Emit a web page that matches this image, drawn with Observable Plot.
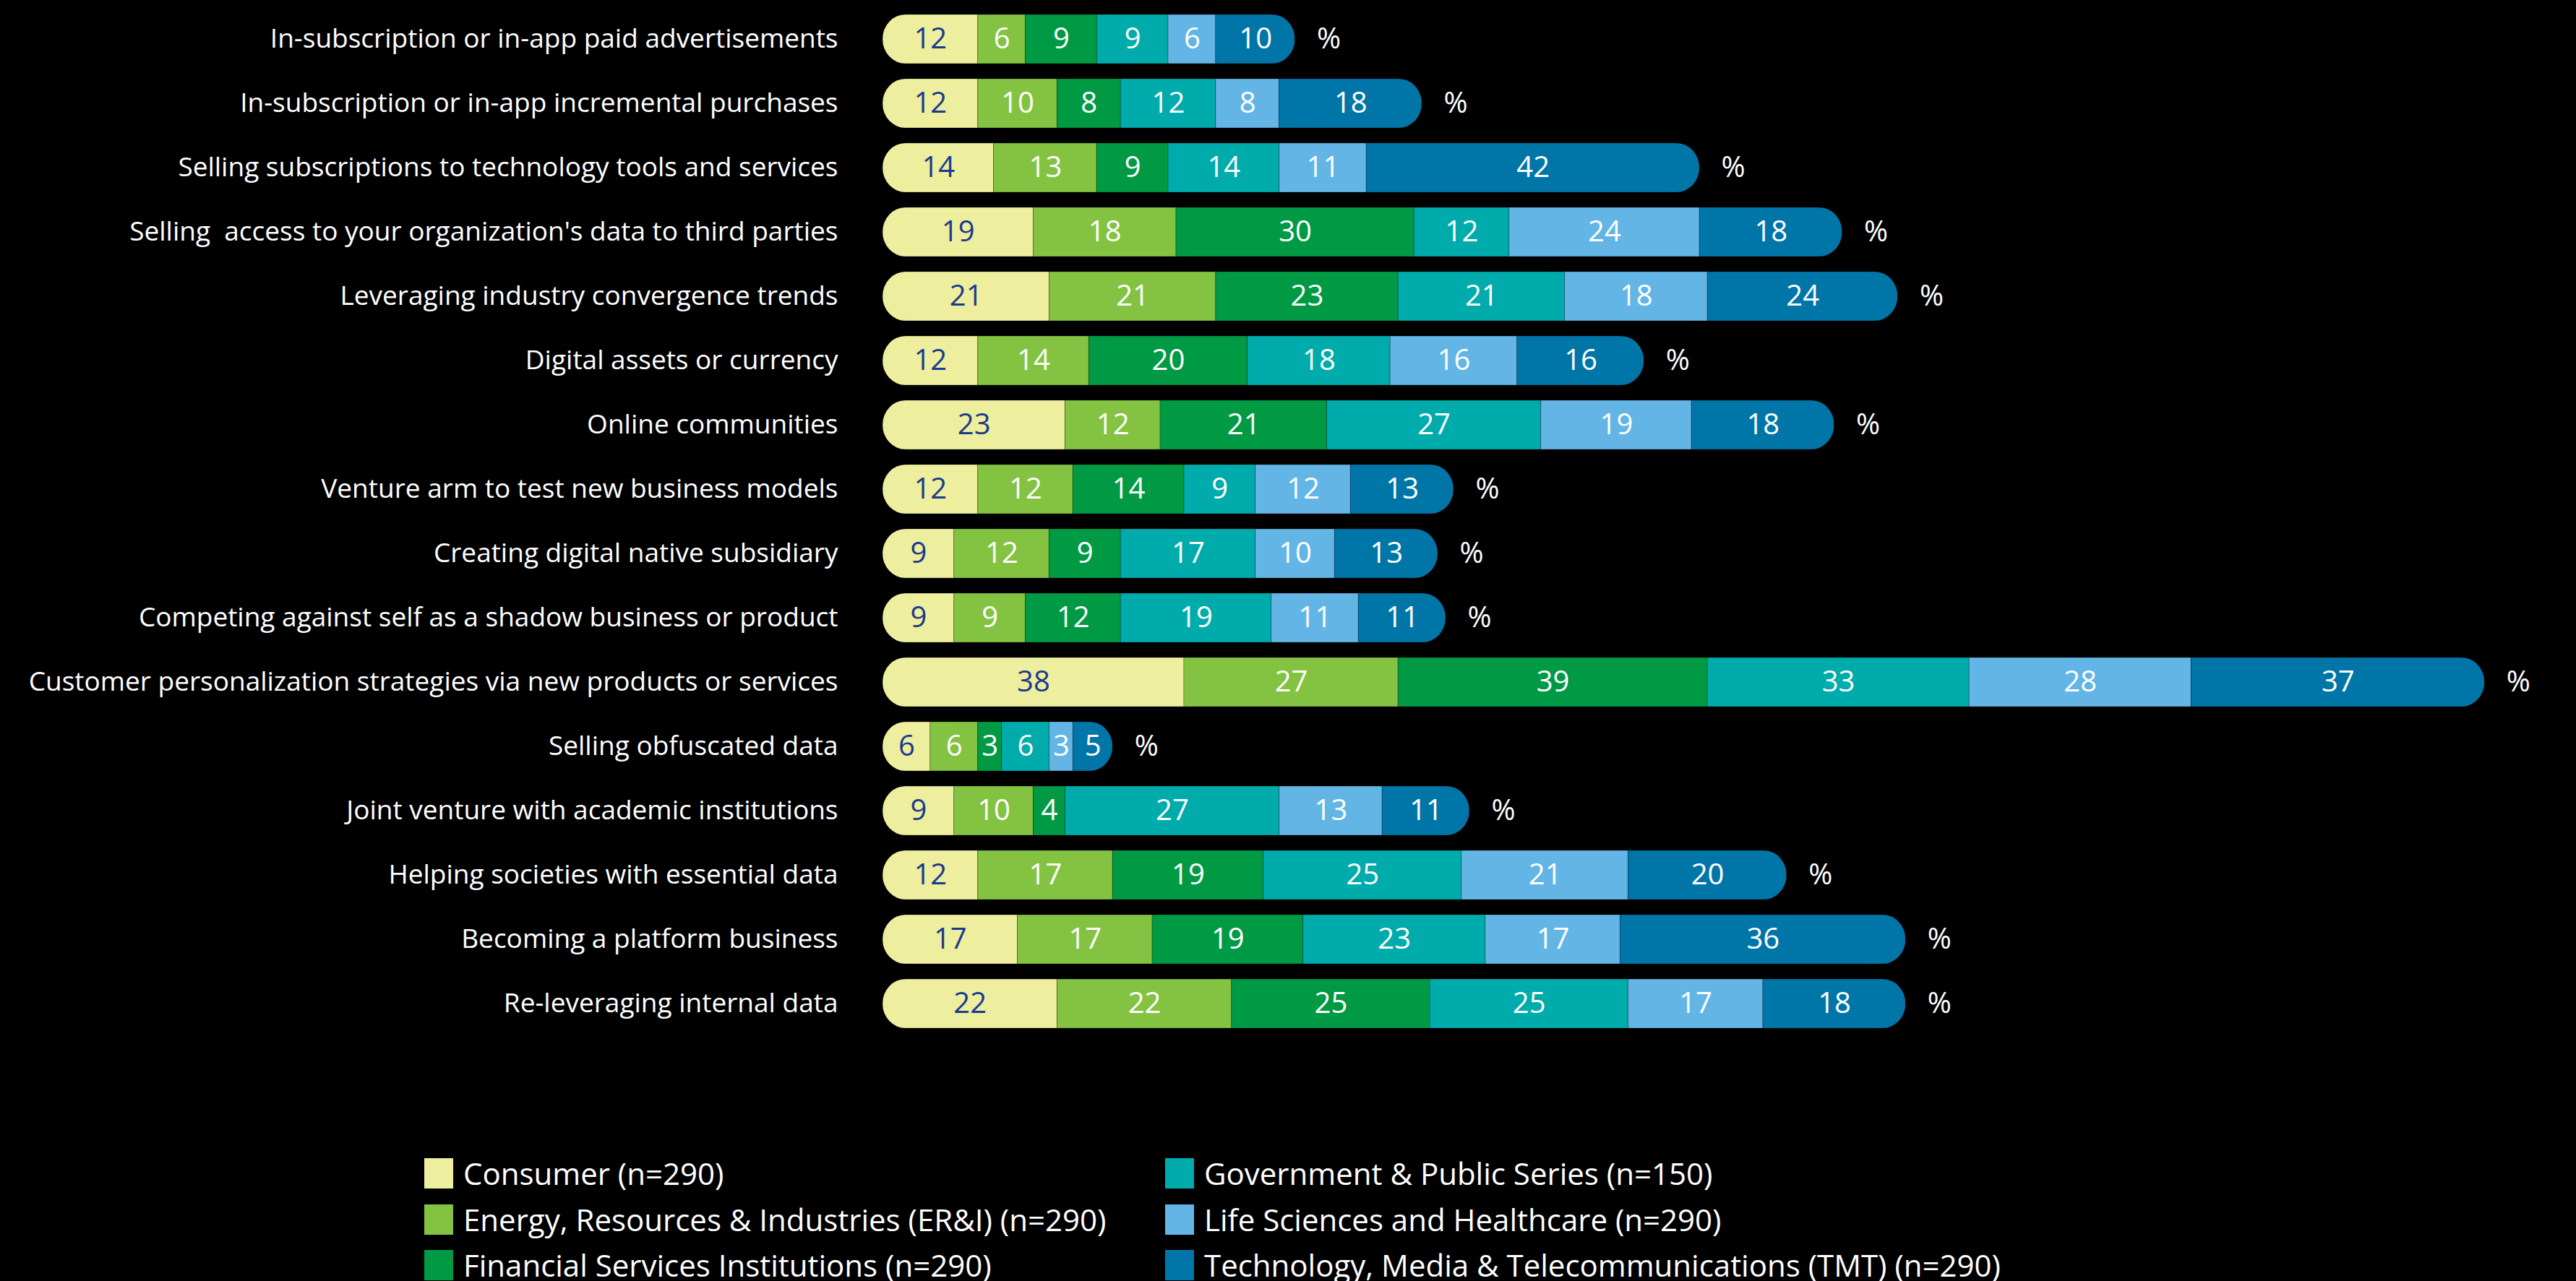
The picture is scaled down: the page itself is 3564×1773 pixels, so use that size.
<!DOCTYPE html>
<html>
<head>
<meta charset="utf-8">
<script src="https://cdn.jsdelivr.net/npm/d3@7"></script>
<script src="https://cdn.jsdelivr.net/npm/@observablehq/plot@0.6"></script>
<style>
  html, body { margin: 0; padding: 0; background: #000; }
  body { width: 3564px; height: 1773px; position: relative; overflow: hidden; font-family: 'Open Sans', sans-serif; }
  #chart { position: absolute; left: 0; top: 0; }
  .lg-sq { position: absolute; width: 40px; height: 42px; }
  .lg-tx { position: absolute; color: #fff; font-size: 42px; line-height: 42px; white-space: nowrap; }
</style>
</head>
<body>
<div id="chart"></div>
<div id="legend"></div>
<script>
const categories = [
  "In-subscription or in-app paid advertisements",
  "In-subscription or in-app incremental purchases",
  "Selling subscriptions to technology tools and services",
  "Selling  access to your organization's data to third parties",
  "Leveraging industry convergence trends",
  "Digital assets or currency",
  "Online communities",
  "Venture arm to test new business models",
  "Creating digital native subsidiary",
  "Competing against self as a shadow business or product",
  "Customer personalization strategies via new products or services",
  "Selling obfuscated data",
  "Joint venture with academic institutions",
  "Helping societies with essential data",
  "Becoming a platform business",
  "Re-leveraging internal data"
];
const consumer     = [12, 12, 14, 19, 21, 12, 23, 12,  9,  9, 38, 6,  9, 12, 17, 22];
const energy       = [ 6, 10, 13, 18, 21, 14, 12, 12, 12,  9, 27, 6, 10, 17, 17, 22];
const financial    = [ 9,  8,  9, 30, 23, 20, 21, 14,  9, 12, 39, 3,  4, 19, 19, 25];
const government   = [ 9, 12, 14, 12, 21, 18, 27,  9, 17, 19, 33, 6, 27, 25, 23, 25];
const lifeSciences = [ 6,  8, 11, 24, 18, 16, 19, 12, 10, 11, 28, 3, 13, 21, 17, 17];
const tmt          = [10, 18, 42, 18, 24, 16, 18, 13, 13, 11, 37, 5, 11, 20, 36, 18];

const seriesNames = [
  "Consumer (n=290)",
  "Energy, Resources & Industries (ER&I) (n=290)",
  "Financial Services Institutions (n=290)",
  "Government & Public Series (n=150)",
  "Life Sciences and Healthcare (n=290)",
  "Technology, Media & Telecommunications (TMT) (n=290)"
];
const seriesColors = ["#EDEE9E", "#84C341", "#009A44", "#00ABAB", "#62B5E5", "#0076A8"];
const seriesValues = [consumer, energy, financial, government, lifeSciences, tmt];

const FONT = "'Open Sans', sans-serif";
const NAVY = "#1B3A8C";

const data = [];
categories.forEach((c, i) => {
  seriesNames.forEach((s, j) => data.push({category: c, series: s, value: seriesValues[j][i]}));
});
const totals = categories.map((c, i) => ({category: c, total: d3.sum(seriesValues, arr => arr[i])}));

const plot = Plot.plot({
  width: 3564,
  height: 1442,
  marginLeft: 1221,
  marginRight: 6,
  marginTop: 0,
  marginBottom: 0,
  style: {background: "#000", color: "#fff", fontSize: "37px", fontFamily: FONT},
  x: {domain: [0, 213], axis: null},
  y: {domain: categories, paddingInner: 0.24, paddingOuter: 0.155, label: null, tickSize: 0, tickPadding: 62},
  color: {domain: seriesNames, range: seriesColors},
  marks: [
    Plot.barX(data, {x: "value", y: "category", fill: "series", stroke: "#000", strokeOpacity: 0.25, strokeWidth: 1}),
    Plot.text(data, Plot.stackX({x: "value", y: "category", text: d => d.series === seriesNames[0] ? String(d.value) : "", fill: NAVY, fontSize: 40, fontFamily: FONT})),
    Plot.text(data, Plot.stackX({x: "value", y: "category", text: d => d.series !== seriesNames[0] ? String(d.value) : "", fill: "#fff", fontSize: 40, fontFamily: FONT})),
    Plot.text(totals, {x: "total", y: "category", text: () => "%", dx: 30, textAnchor: "start", fill: "#fff", fontSize: 40, fontFamily: FONT})
  ]
});
document.getElementById("chart").appendChild(plot);

const xs = plot.scale("x"), ys = plot.scale("y");
const svg = d3.select(plot.tagName.toLowerCase() === "svg" ? plot : plot.querySelector("svg"));
const defs = svg.insert("defs", ":first-child");
const cp = defs.append("clipPath").attr("id", "pill-clip");
totals.forEach(t => {
  const x0 = xs.apply(0), x1 = xs.apply(t.total);
  const y0 = ys.apply(t.category), h = ys.bandwidth;
  cp.append("rect").attr("x", x0).attr("y", y0).attr("width", x1 - x0).attr("height", h)
    .attr("rx", 32).attr("ry", h / 2);
});
svg.select('g[aria-label="bar"]').attr("clip-path", "url(#pill-clip)");

const legend = d3.select("#legend");
const colX = [587, 1612];
const rowY = [1603, 1667, 1730];
seriesNames.forEach((s, i) => {
  const col = Math.floor(i / 3), row = i % 3;
  legend.append("div").attr("class", "lg-sq")
    .style("left", colX[col] + "px").style("top", rowY[row] + "px").style("background", seriesColors[i]);
  legend.append("div").attr("class", "lg-tx")
    .style("left", (colX[col] + 54) + "px").style("top", rowY[row] + "px").text(s);
});
</script>
</body>
</html>
